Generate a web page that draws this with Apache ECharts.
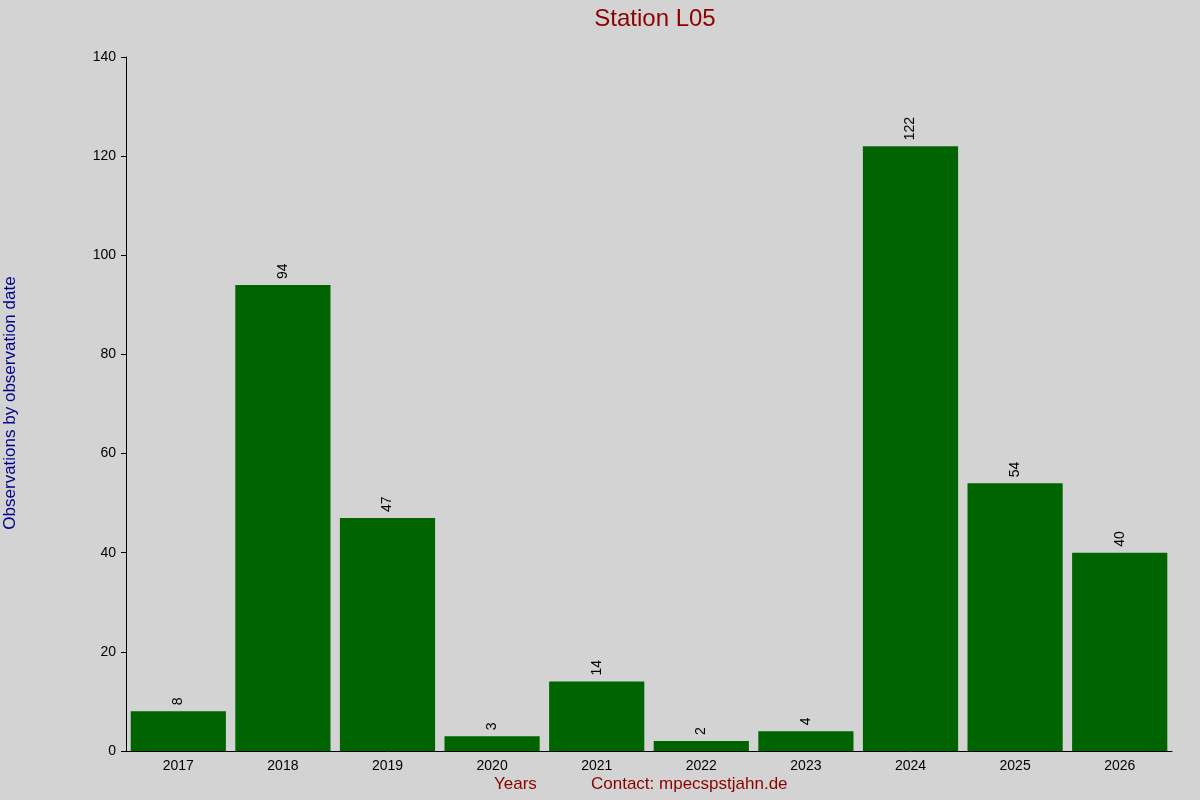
<!DOCTYPE html>
<html><head><meta charset="utf-8">
<script src="https://cdn.jsdelivr.net/npm/echarts@6/dist/echarts.min.js"></script>
<style>html,body{margin:0;padding:0;background:#d3d3d3}#c{width:1200px;height:800px}</style>
</head><body><div id="c"></div>
<script>
const categories = ['2017','2018','2019','2020','2021','2022','2023','2024','2025','2026'];
const values = [8,94,47,3,14,2,4,122,54,40];
const chart = echarts.init(document.getElementById('c'));
chart.setOption({
  backgroundColor:'#d3d3d3',
  animation:false,
  title:{text:'Station L05',left:650,top:2,textAlign:'center',textStyle:{color:'#8b0000',fontSize:24,fontWeight:'normal',fontFamily:'Liberation Sans'}},
  graphic:[
    {type:'text',left:494,top:776,style:{text:'Years',fill:'#8b0000',font:'17px Liberation Sans'}},
    {type:'text',left:591,top:776,style:{text:'Contact: mpecspstjahn.de',fill:'#8b0000',font:'17px Liberation Sans'}},
    {type:'text',x:2,y:403,rotation:Math.PI/2,style:{text:'Observations by observation date',fill:'#00008b',font:'17px Liberation Sans',align:'center',verticalAlign:'top'}}
  ],
  grid:{left:126,right:28,top:57,bottom:49},
  xAxis:[{type:'category',data:categories,
    axisLine:{lineStyle:{color:'#000'}},axisTick:{show:false},
    axisLabel:{color:'#000',fontSize:14,fontFamily:'Liberation Sans',margin:8}},
    {type:'category',data:categories,position:'top',axisLine:{show:false},
    axisTick:{alignWithLabel:true,length:1,lineStyle:{color:'#000'}},axisLabel:{show:false}}],
  yAxis:{type:'value',min:0,max:140,interval:20,
    axisLine:{show:true,lineStyle:{color:'#000'}},axisTick:{show:true,length:5,lineStyle:{color:'#000'}},
    splitLine:{show:false},axisLabel:{color:'#000',fontSize:14,fontFamily:'Liberation Sans',margin:10}},
  series:[{type:'bar',data:values,barCategoryGap:'9%',itemStyle:{color:'#006400'},
    label:{show:true,position:'top',rotate:90,align:'left',verticalAlign:'middle',distance:6,color:'#000',fontSize:14,fontFamily:'Liberation Sans'}}]
});
</script></body></html>
